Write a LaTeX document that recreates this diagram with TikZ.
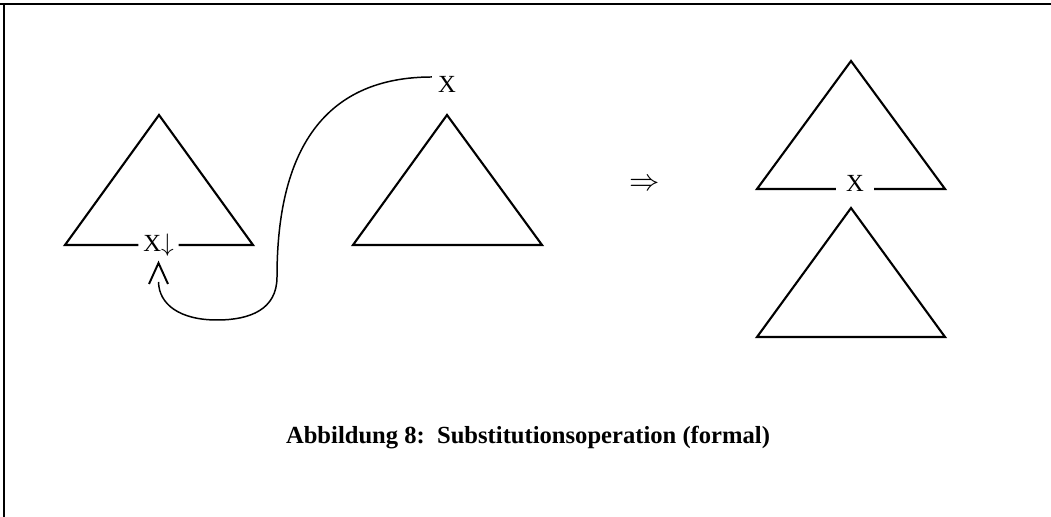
\documentclass[tikz,border=0pt]{standalone}
\usepackage{fontspec}
\setmainfont{Liberation Serif}
\usepackage{tikz}
\usetikzlibrary{arrows.meta, positioning, calc}
\tikzset{
	tree/.style={draw, line width=1.2pt, line join=miter},
	frameline/.style={draw, line width=1.2pt},
	symlabel/.style={inner ysep=0pt, font=\fontsize{14}{16}\selectfont},
	subst/.style={draw, line width=0.85pt}
}

\begin{document}
\begin{tikzpicture}[
    % caption in bold, same size as the labels
    caption/.style={font=\fontsize{14}{16}\selectfont\bfseries}
]
\useasboundingbox (0,0) rectangle (21.02,10.34);

% --- FRAME: only top and left edge are visible ---
\draw[frameline] (0,10.26) -- (21.02,10.26);
\draw[line width=0.7pt] (0.08,10.26) -- (0.08,0);

% --- LEFT: tree with substitution node ---
\coordinate (lt_top) at (3.18, 8.04);
\coordinate (lt_bl)  at (1.30, 5.44);
\coordinate (lt_br)  at (5.06, 5.44);
\node[symlabel, inner xsep=0.09cm] (xdown) at (3.17, 5.44) {X$\downarrow$};
\draw[tree] (xdown.west) -- (lt_bl) -- (lt_top) -- (lt_br) -- (xdown.east);

% --- MIDDLE: initial tree rooted in X ---
\node[symlabel] (xroot) at (8.94, 8.66) {X};
\coordinate (mt_top) at (8.94, 8.04);
\coordinate (mt_bl)  at (7.06, 5.44);
\coordinate (mt_br)  at (10.84, 5.44);
\draw[tree] (mt_bl) -- (mt_top) -- (mt_br) -- cycle;

% connector from X back to the substitution node
\coordinate (xroot_out) at ($(xroot.west)+(0,0.14)$);
\coordinate (xdown_in) at ($(xdown.center)+(0,-0.74)$);
\draw[subst] (xroot_out) .. controls (6.0,8.80) and (5.54,6.6) .. (5.54,4.80)
    .. controls (5.54,4.15) and (5.0,3.94) .. (4.34,3.94)
    .. controls (3.6,3.94) and (3.18,4.25) .. (xdown_in);
% open wedge above the end of the connector
\draw[subst, line width=1.1pt] ($(xdown.center)+(-0.19,-0.78)$) -- ($(xdown.center)+(0,-0.36)$) -- ($(xdown.center)+(0.19,-0.78)$);

% --- ARROW ---
\node[symlabel, font=\fontsize{19}{21}\selectfont] (result) at (12.90, 6.64) {$\Rightarrow$};

% --- RIGHT: derived tree ---
\coordinate (ru_top) at (17.02, 9.12);
\coordinate (ru_bl)  at (15.14, 6.56);
\coordinate (ru_br)  at (18.90, 6.56);
\node[symlabel, inner xsep=0.2cm] (xsub) at (17.10, 6.68) {X};
\draw[tree] (xsub.west |- ru_bl) -- (ru_bl) -- (ru_top) -- (ru_br) -- (xsub.east |- ru_br);

\coordinate (rl_top) at (17.02, 6.18);
\coordinate (rl_bl)  at (15.14, 3.60);
\coordinate (rl_br)  at (18.90, 3.60);
\draw[tree] (rl_bl) -- (rl_top) -- (rl_br) -- cycle;

% --- CAPTION ---
\node[caption] (cap) at (10.56, 1.58) {Abbildung 8:\ \ Substitutionsoperation (formal)};

\end{tikzpicture}
\end{document}
